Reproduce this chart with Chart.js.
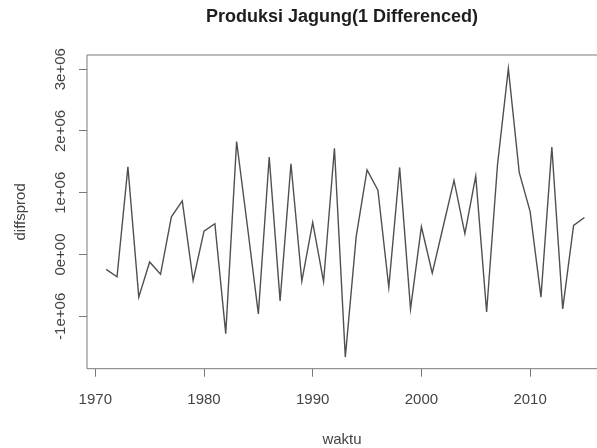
<!DOCTYPE html>
<html>
<head>
<meta charset="utf-8">
<script src="https://cdn.jsdelivr.net/npm/chart.js@4"></script>
<style>
html, body { margin: 0; padding: 0; background: #ffffff; overflow: hidden; }
canvas { display: block; }
</style>
</head>
<body>
<canvas id="c" width="597" height="448"></canvas>
<script>
// ---- data ----
const years = [
  1971, 1972, 1973, 1974, 1975, 1976, 1977, 1978, 1979, 1980,
  1981, 1982, 1983, 1984, 1985, 1986, 1987, 1988, 1989, 1990,
  1991, 1992, 1993, 1994, 1995, 1996, 1997, 1998, 1999, 2000,
  2001, 2002, 2003, 2004, 2005, 2006, 2007, 2008, 2009, 2010,
  2011, 2012, 2013, 2014, 2015
];
const diffsprod = [
  -240000, -360000, 1420000, -690000, -120000, -320000, 610000, 870000, -420000, 380000,
  500000, -1280000, 1830000, 450000, -960000, 1580000, -750000, 1470000, -430000, 520000,
  -440000, 1720000, -1660000, 290000, 1370000, 1040000, -530000, 1410000, -880000, 450000,
  -300000, 450000, 1200000, 340000, 1270000, -930000, 1450000, 3010000, 1330000, 700000,
  -690000, 1740000, -880000, 470000, 600000
];
const xTickValues = [1970, 1980, 1990, 2000, 2010];
const xTickLabels = ['1970', '1980', '1990', '2000', '2010'];
const yTickValues = [-1000000, 0, 1000000, 2000000, 3000000];
const yTickLabels = ['-1e+06', '0e+00', '1e+06', '2e+06', '3e+06'];
const titleText = 'Produksi Jagung(1 Differenced)';
const xTitleText = 'waktu';
const yTitleText = 'diffsprod';

// ---- styling ----
const FONT = 'Liberation Sans, Arial, sans-serif';
const AXIS_COLOR = '#7a7a7a';
const TEXT_COLOR = '#444444';

const boxPlugin = {
  id: 'rbox',
  afterDraw(chart) {
    const { ctx, chartArea: a } = chart;
    ctx.save();
    ctx.strokeStyle = AXIS_COLOR;
    ctx.lineWidth = 1;
    ctx.beginPath();
    ctx.moveTo(a.left, a.bottom);
    ctx.lineTo(a.left, a.top);
    ctx.lineTo(a.right + 10, a.top);
    ctx.moveTo(a.left, a.bottom);
    ctx.lineTo(a.right + 10, a.bottom);
    ctx.stroke();
    ctx.restore();
  }
};

new Chart(document.getElementById('c'), {
  type: 'line',
  data: {
    datasets: [{
      data: years.map((yr, i) => ({ x: yr, y: diffsprod[i] })),
      borderColor: '#505050',
      borderWidth: 1.4,
      pointRadius: 0,
      tension: 0,
      fill: false
    }]
  },
  options: {
    responsive: false,
    animation: false,
    devicePixelRatio: 1,
    layout: { padding: 0 },
    plugins: {
      legend: { display: false },
      tooltip: { enabled: false },
      title: {
        display: true,
        text: titleText,
        fullSize: false,
        color: '#1e1e1e',
        font: { family: FONT, size: 18, weight: 'bold' },
        padding: { top: 5.9, bottom: 27.5 }
      }
    },
    scales: {
      x: {
        type: 'linear',
        min: 1969.236,
        max: 2016.155,
        afterBuildTicks: s => { s.ticks = xTickValues.map(v => ({ value: v })); },
        afterFit: s => { s.height = 79.3; },
        ticks: {
          callback: (v, i) => xTickLabels[i],
          color: TEXT_COLOR,
          font: { family: FONT, size: 15 },
          padding: 14,
          maxRotation: 0,
          autoSkip: false
        },
        grid: { drawOnChartArea: false, drawTicks: true, tickLength: 8, color: AXIS_COLOR },
        border: { display: false },
        title: {
          display: true,
          text: xTitleText,
          color: TEXT_COLOR,
          font: { family: FONT, size: 15 },
          padding: { top: 0, bottom: -1 }
        }
      },
      y: {
        type: 'linear',
        min: -1848000,
        max: 3230000,
        afterBuildTicks: s => { s.ticks = yTickValues.map(v => ({ value: v })); },
        afterFit: s => { s.width = 87; },
        ticks: {
          callback: (v, i) => yTickLabels[i],
          color: TEXT_COLOR,
          font: { family: FONT, size: 15 },
          minRotation: 90,
          maxRotation: 90,
          crossAlign: 'center',
          padding: -5,
          autoSkip: false
        },
        grid: { drawOnChartArea: false, drawTicks: true, tickLength: 8, color: AXIS_COLOR },
        border: { display: false },
        title: {
          display: true,
          text: yTitleText,
          color: TEXT_COLOR,
          font: { family: FONT, size: 15 },
          padding: { top: 11.5, bottom: 0 }
        }
      }
    }
  },
  plugins: [boxPlugin]
});
</script>
</body>
</html>
